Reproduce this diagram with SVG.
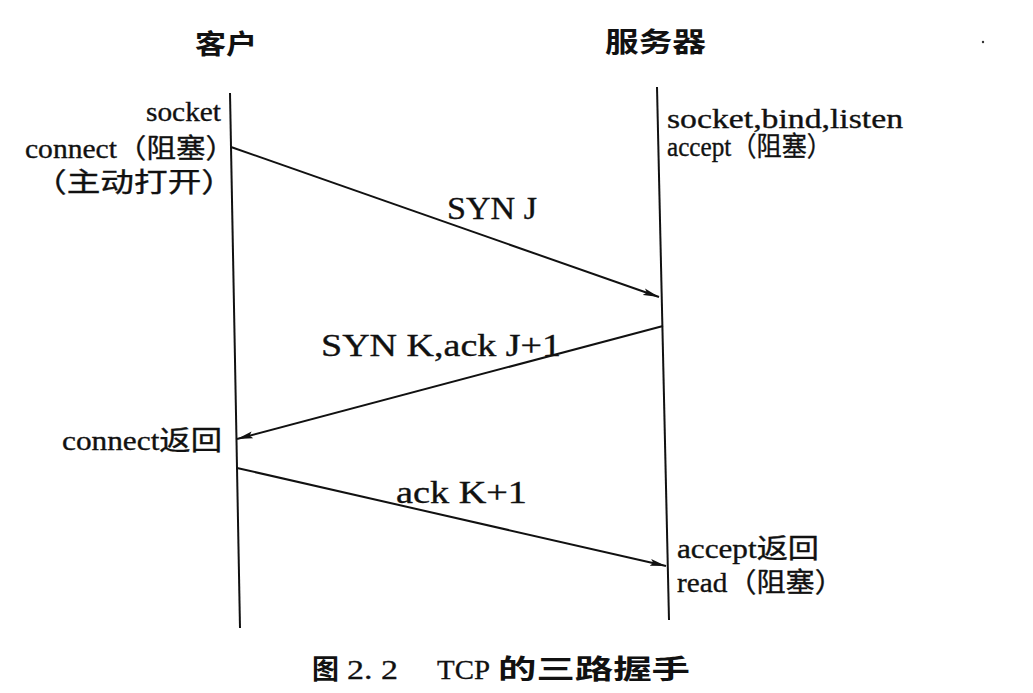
<svg xmlns="http://www.w3.org/2000/svg" width="1033" height="693" viewBox="0 0 1033 693">
<style>
.title{font-family:"Noto Sans CJK SC","Noto Sans",sans-serif;font-weight:700;font-size:27px;fill:#111}
.lbl{font-family:"Liberation Serif","Noto Sans CJK SC",serif;font-size:27px;fill:#111;stroke:#111;stroke-width:0.35}
.msg{font-family:"Liberation Serif","Noto Sans CJK SC",serif;font-size:31px;fill:#111;stroke:#111;stroke-width:0.35}
.hei{font-family:"Noto Sans CJK SC",sans-serif;font-weight:700;font-size:27px;fill:#111}
.ser{font-family:"Liberation Serif",serif;font-size:28px;fill:#111;stroke:#111;stroke-width:0.3}
.life{stroke:#111;stroke-width:2;fill:none}
.arrow{stroke:#111;stroke-width:2;fill:none;marker-end:url(#ah)}
</style>
<defs>
<marker id="ah" markerUnits="userSpaceOnUse" markerWidth="17" markerHeight="9" refX="16" refY="4.5" orient="auto">
<path d="M0,1 L16,4.5 L0,8 L3,4.5 z" fill="#111"/>
</marker>
</defs>
<rect width="1033" height="693" fill="#fff"/>
<g id="client">
<line class="life" x1="230" y1="93" x2="240" y2="628"/>
<text class="title" x="195" y="54" textLength="62" lengthAdjust="spacingAndGlyphs">客户</text>
<text class="lbl" x="146" y="121" textLength="75" lengthAdjust="spacingAndGlyphs">socket</text>
<text class="lbl" x="25" y="158" textLength="210" lengthAdjust="spacingAndGlyphs">connect（阻塞）</text>
<text class="lbl" x="33" y="192" textLength="202" lengthAdjust="spacingAndGlyphs">（主动打开）</text>
<text class="lbl" x="62" y="450" textLength="160" lengthAdjust="spacingAndGlyphs">connect返回</text>
</g>
<g id="server">
<line class="life" x1="657" y1="87" x2="669" y2="620"/>
<text class="title" x="605" y="52" textLength="101" lengthAdjust="spacingAndGlyphs">服务器</text>
<text class="lbl" x="667" y="128" textLength="236" lengthAdjust="spacingAndGlyphs">socket,bind,listen</text>
<text class="lbl" x="667" y="156" textLength="165" lengthAdjust="spacingAndGlyphs">accept（阻塞）</text>
<text class="lbl" x="677" y="558" textLength="142" lengthAdjust="spacingAndGlyphs">accept返回</text>
<text class="lbl" x="677" y="592" textLength="167" lengthAdjust="spacingAndGlyphs">read（阻塞）</text>
</g>
<g id="connectors">
<line class="arrow" x1="231" y1="147" x2="659" y2="297"/>
<line class="arrow" x1="663" y1="326" x2="237" y2="439"/>
<line class="arrow" x1="237" y1="468" x2="666" y2="566"/>
<text class="msg" x="447" y="219" textLength="90" lengthAdjust="spacingAndGlyphs">SYN J</text>
<text class="msg" x="321" y="356" textLength="240" lengthAdjust="spacingAndGlyphs">SYN K,ack J+1</text>
<text class="msg" x="396" y="503" textLength="131" lengthAdjust="spacingAndGlyphs">ack K+1</text>
</g>
<g id="caption">
<text class="hei" x="312" y="679">图</text>
<text class="ser" x="347" y="679" textLength="51" lengthAdjust="spacingAndGlyphs">2. 2</text>
<text class="ser" x="437" y="679" textLength="53" lengthAdjust="spacingAndGlyphs">TCP</text>
<text class="hei" x="498" y="679" textLength="192" lengthAdjust="spacingAndGlyphs">的三路握手</text>
</g>
<circle cx="983" cy="42" r="1.2" fill="#333"/>
</svg>
